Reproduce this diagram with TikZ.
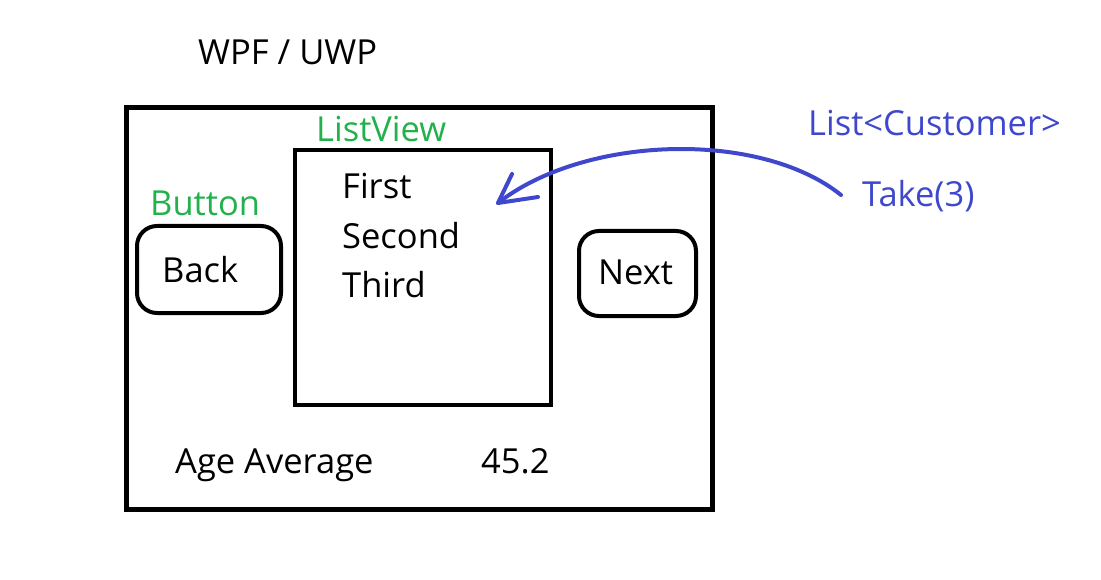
\documentclass[tikz,border=0pt]{standalone}
\usepackage{fontspec}
\setmainfont{Open Sans}
\definecolor{pgreen}{HTML}{22B14C}
\definecolor{pblue}{HTML}{3F48CC}
\begin{document}
\begin{tikzpicture}[x=1pt,y=-1pt,
  txt/.style={anchor=base west,inner sep=0pt,font=\fontsize{34.5}{40}\selectfont},
  gtxt/.style={txt,text=pgreen},
  btxt/.style={txt,text=pblue},
  frame/.style={draw=black,line width=5pt},
  btn/.style={draw=black,line width=4pt,rounded corners=20pt}]
\useasboundingbox (0,0) rectangle (1101,580);
\draw[frame] (126,108) rectangle (712,509);
\coordinate (lvA) at (295,150);
\coordinate (lvB) at (551,405);
\draw[draw=black,line width=4pt] (lvA) rectangle (lvB);
\draw[btn] (137,226) rectangle (281,313);
\draw[btn] (579,231) rectangle (696,316);
\node[txt] (title) at (198,65) {WPF / UWP};
\node[gtxt] (lvlabel) at (316,142) {ListView};
\node[gtxt] (btnlabel) at (150,216) {Button};
\node[txt] (back) at (162,283) {Back};
\node[txt] (next) at (598,284) {Next};
\node[txt] (first) at (342,199) {First};
\node[txt] (second) at (342,249) {Second};
\node[txt] (third) at (342,298) {Third};
\node[txt] (age) at (175,473) {Age Average};
\node[txt] (val) at (481,473) {45.2};
\node[btxt] (list) at (808,136) {List<Customer>};
\node[btxt] (take) at (862,207) {Take(3)};
\coordinate (s) at (841,195);
\coordinate (t) at (498,203);
\coordinate (h1) at (512,174);
\coordinate (h2) at (538,197);
\draw[pblue,line width=4pt,line cap=round] (s) .. controls (760,130) and (585,135) .. (t);
\draw[pblue,line width=4pt,line cap=round,line join=round] (h1) -- (t) -- (h2);
\end{tikzpicture}
\end{document}
